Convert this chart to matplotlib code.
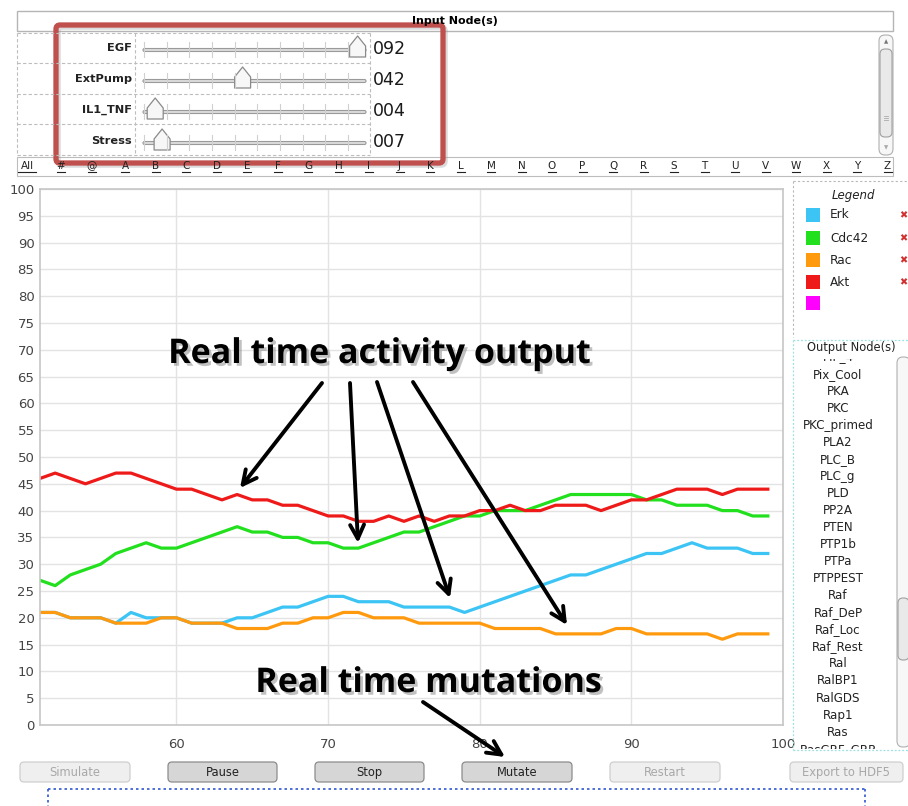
import matplotlib.pyplot as plt
import matplotlib.patches as mpatches
import matplotlib.patheffects as pe
import numpy as np

# ---- data ----
time = np.arange(51, 100)
erk = [21, 21, 20, 20, 20, 19, 21, 20, 20, 20,
       19, 19, 19, 20, 20, 21, 22, 22, 23, 24,
       24, 23, 23, 23, 22, 22, 22, 22, 21, 22,
       23, 24, 25, 26, 27, 28, 28, 29, 30, 31,
       32, 32, 33, 34, 33, 33, 33, 32, 32]
cdc42 = [27, 26, 28, 29, 30, 32, 33, 34, 33, 33,
         34, 35, 36, 37, 36, 36, 35, 35, 34, 34,
         33, 33, 34, 35, 36, 36, 37, 38, 39, 39,
         40, 40, 40, 41, 42, 43, 43, 43, 43, 43,
         42, 42, 41, 41, 41, 40, 40, 39, 39]
rac = [21, 21, 20, 20, 20, 19, 19, 19, 20, 20,
       19, 19, 19, 18, 18, 18, 19, 19, 20, 20,
       21, 21, 20, 20, 20, 19, 19, 19, 19, 19,
       18, 18, 18, 18, 17, 17, 17, 17, 18, 18,
       17, 17, 17, 17, 17, 16, 17, 17, 17]
akt = [46, 47, 46, 45, 46, 47, 47, 46, 45, 44,
       44, 43, 42, 43, 42, 42, 41, 41, 40, 39,
       39, 38, 38, 39, 38, 39, 38, 39, 39, 40,
       40, 41, 40, 40, 41, 41, 41, 40, 41, 42,
       42, 43, 44, 44, 44, 43, 44, 44, 44]
series_names = ["Erk", "Cdc42", "Rac", "Akt"]
series_colors = ["#3cc4f4", "#22e01e", "#ff9a0e", "#ee1a1a"]

input_nodes = ["EGF", "ExtPump", "IL1_TNF", "Stress"]
input_values = [92, 42, 4, 7]

letters = ["All", "#", "@"] + list("ABCDEFGHIJKLMNOPQRSTUVWXYZ")

output_nodes = ["PIP_4", "Pix_Cool", "PKA", "PKC", "PKC_primed", "PLA2",
                "PLC_B", "PLC_g", "PLD", "PP2A", "PTEN", "PTP1b", "PTPa",
                "PTPPEST", "Raf", "Raf_DeP", "Raf_Loc", "Raf_Rest", "Ral",
                "RalBP1", "RalGDS", "Rap1", "Ras", "RasGRF_GRP"]

buttons = ["Simulate", "Pause", "Stop", "Mutate", "Restart", "Export to HDF5"]
button_enabled = [False, True, True, True, False, False]

W, H = 908, 806
fig = plt.figure(figsize=(W / 100, H / 100), dpi=100)
fig.patch.set_facecolor("white")

# ---- main chart ----
ax = fig.add_axes([40 / W, 1 - 725 / H, 743 / W, 536 / H])
for vals, name, col in zip([erk, cdc42, rac, akt], series_names, series_colors):
    ax.plot(time, vals, color=col, lw=2.3, label=name, solid_joinstyle="round")
ax.set_xlim(51, 100)
ax.set_ylim(0, 100)
ax.set_xticks([60, 70, 80, 90, 100])
ax.set_yticks(np.arange(0, 101, 5))
ax.grid(color="#e3e3e3", lw=1)
ax.set_axisbelow(True)
for s in ax.spines.values():
    s.set_color("#c6c6c6")
    s.set_linewidth(1.2)
ax.tick_params(length=0, labelsize=9.5, labelcolor="#444")
ax.tick_params(axis="y", pad=4)
ax.tick_params(axis="x", pad=9)

# ---- GUI overlay in pixel coordinates ----
fg = fig.add_axes([0, 0, 1, 1], zorder=5)
fg.patch.set_alpha(0)
fg.set_xlim(0, W)
fg.set_ylim(H, 0)
fg.axis("off")

# input header
fg.add_patch(mpatches.Rectangle((17, 11), 876, 20, fc="white", ec="#b5b5b5", lw=1))
fg.text(455, 21, "Input Node(s)", ha="center", va="center", fontsize=8, fontweight="bold")

# input rows
dash = dict(color="#bdbdbd", lw=0.8, ls=(0, (3, 2)))
for yb in [33, 63, 94, 124, 155]:
    fg.plot([17, 370], [yb, yb], **dash)
fg.plot([17, 17], [33, 155], **dash)
fg.plot([135, 135], [33, 155], **dash)
fg.plot([370, 370], [33, 155], **dash)

row_y = [48, 79, 110, 141]
tick_x = np.linspace(144, 348, 10)
for name, val, cy in zip(input_nodes, input_values, row_y):
    fg.text(132, cy, name, ha="right", va="center", fontsize=8.2, fontweight="bold", color="#222")
    ty = cy + 2
    for tx in tick_x:
        fg.plot([tx, tx], [ty - 8, ty + 7], color="#d0d0d0", lw=0.8)
    fg.add_patch(mpatches.FancyBboxPatch((143, ty - 1.5), 223, 3,
                 boxstyle="round,pad=0,rounding_size=1.5", fc="#dcdcdc", ec="#9a9a9a", lw=0.8))
    cx = 146 + val * 2.3
    thumb = [(cx - 8, ty + 7), (cx + 8, ty + 7), (cx + 8, ty - 4), (cx, ty - 14), (cx - 8, ty - 4)]
    fg.add_patch(mpatches.Polygon(thumb, closed=True, fc="#f7f7f7", ec="#8a8a8a", lw=0.9,
                                  joinstyle="round"))
    fg.text(373, cy + 1, f"{val:03d}", ha="left", va="center", fontsize=12.5, color="#1a1a1a")

# input scrollbar
fg.add_patch(mpatches.FancyBboxPatch((879, 35), 14, 120, boxstyle="round,pad=0,rounding_size=6",
                                     fc="#f7f7f7", ec="#b0b0b0", lw=0.8))
fg.add_patch(mpatches.FancyBboxPatch((880, 49), 12, 88, boxstyle="round,pad=0,rounding_size=5",
                                     fc="#e9e9e9", ec="#a0a0a0", lw=0.8))
fg.text(886, 42, "▲", ha="center", va="center", fontsize=4, color="#777")
fg.text(886, 148, "▼", ha="center", va="center", fontsize=4, color="#aaa")
for dy in (-2, 0, 2):
    fg.plot([884, 888], [118 + dy, 118 + dy], color="#aaa", lw=0.6)

# alphabet row
fg.add_patch(mpatches.Rectangle((17, 157), 876, 19, fc="white", ec="#bdbdbd", lw=0.8))
letter_x = [27, 61, 92] + [125 + 30.5 * i for i in range(26)]
for lab, lx in zip(letters, letter_x):
    fg.text(lx, 166, lab, ha="center", va="center", fontsize=7.5, color="#222")
    half = 9 if lab == "All" else 4
    fg.plot([lx - half, lx + half], [172, 172], color="#222", lw=0.8)

# red highlight box
fg.add_patch(mpatches.FancyBboxPatch((58, 27), 387, 138, boxstyle="round,pad=0,rounding_size=4",
                                     fc="none", ec="#999999", lw=4, alpha=0.35))
fg.add_patch(mpatches.FancyBboxPatch((56, 25), 387, 138, boxstyle="round,pad=0,rounding_size=4",
                                     fc="none", ec="#c0504d", lw=3.8))

# legend panel
gdash = dict(color="#b8b8b8", lw=0.8, ls=(0, (2, 2)))
fg.plot([793, 793], [181, 337], **gdash)
fg.plot([793, 908], [181, 181], **gdash)
fg.text(853, 195, "Legend", ha="center", va="center", fontsize=8.5, style="italic", color="#222")
leg_y = [215, 238, 260, 282, 303]
for i, cy in enumerate(leg_y):
    col = series_colors[i] if i < len(series_names) else "#ff00ff"
    fg.add_patch(mpatches.Rectangle((806, cy - 7), 14, 14, fc=col, ec="none"))
    if i < len(series_names):
        fg.text(830, cy, series_names[i], ha="left", va="center", fontsize=8.7, color="#222")
        fg.text(903, cy, "\u2716", ha="center", va="center", fontsize=7, color="#d03030")

# output nodes panel
cdot = dict(color="#9fe0e0", lw=0.9, ls=(0, (1.5, 1.5)))
fg.plot([793, 793], [340, 750], **cdot)
fg.plot([793, 908], [340, 340], **cdot)
fg.plot([793, 908], [750, 750], **cdot)
fg.text(851, 348, "Output Node(s)", ha="center", va="center", fontsize=8.3, color="#222")

lst = fig.add_axes([793 / W, 1 - 749 / H, 103 / W, (749 - 359) / H], zorder=6)
lst.set_xlim(793, 896)
lst.set_ylim(749, 359)
lst.axis("off")
for i, name in enumerate(output_nodes):
    lst.text(838, 357 + 17.05 * i, name, ha="center", va="center", fontsize=8.6,
             color="#222", clip_on=True)

fg.add_patch(mpatches.FancyBboxPatch((897, 357), 13, 390, boxstyle="round,pad=0,rounding_size=6",
                                     fc="#f7f7f7", ec="#b0b0b0", lw=0.8))
fg.add_patch(mpatches.FancyBboxPatch((898, 598), 11, 62, boxstyle="round,pad=0,rounding_size=5",
                                     fc="#e9e9e9", ec="#a0a0a0", lw=0.8))

# buttons
btn_x = [20, 168, 315, 462, 610, 790]
btn_w = [110, 109, 109, 110, 110, 113]
for lab, bx, bw, on in zip(buttons, btn_x, btn_w, button_enabled):
    fc = "#d6d6d6" if on else "#efefef"
    ec = "#8c8c8c" if on else "#cfcfcf"
    tc = "#222" if on else "#a8a8a8"
    fg.add_patch(mpatches.FancyBboxPatch((bx, 762), bw, 20, boxstyle="round,pad=0,rounding_size=4",
                                         fc=fc, ec=ec, lw=0.9))
    fg.text(bx + bw / 2, 772.5, lab, ha="center", va="center", fontsize=8.3, color=tc,
            family=["Liberation Sans Narrow", "DejaVu Sans"])

# blue dotted box at bottom
bdot = dict(color="#2f55d4", lw=1.2, ls=(0, (1.5, 1.8)))
fg.plot([48, 865], [789, 789], **bdot)
fg.plot([48, 48], [789, 806], **bdot)
fg.plot([865, 865], [789, 806], **bdot)

# annotations
shadow = [pe.withSimplePatchShadow(offset=(2, -2), shadow_rgbFace="#777777", alpha=0.45)]
fg.text(379, 363, "Real time activity output", ha="center", va="baseline", fontsize=24.5,
        family="Open Sans", fontweight="bold", color="black", path_effects=shadow)
fg.text(428, 692, "Real time mutations", ha="center", va="baseline", fontsize=24.5,
        family="Open Sans", fontweight="bold", color="black", path_effects=shadow)

arrow_style = dict(arrowstyle="->,head_length=1.0,head_width=0.5", lw=2.8, color="black",
                   shrinkA=0, shrinkB=0)
for start, end in [((322, 383), (240, 488)), ((350, 383), (358, 543)),
                   ((377, 382), (450, 598)), ((413, 382), (567, 625)),
                   ((423, 702), (505, 757))]:
    fg.annotate("", xy=end, xytext=start, arrowprops=arrow_style)

fig.savefig("out.png", dpi=100)
